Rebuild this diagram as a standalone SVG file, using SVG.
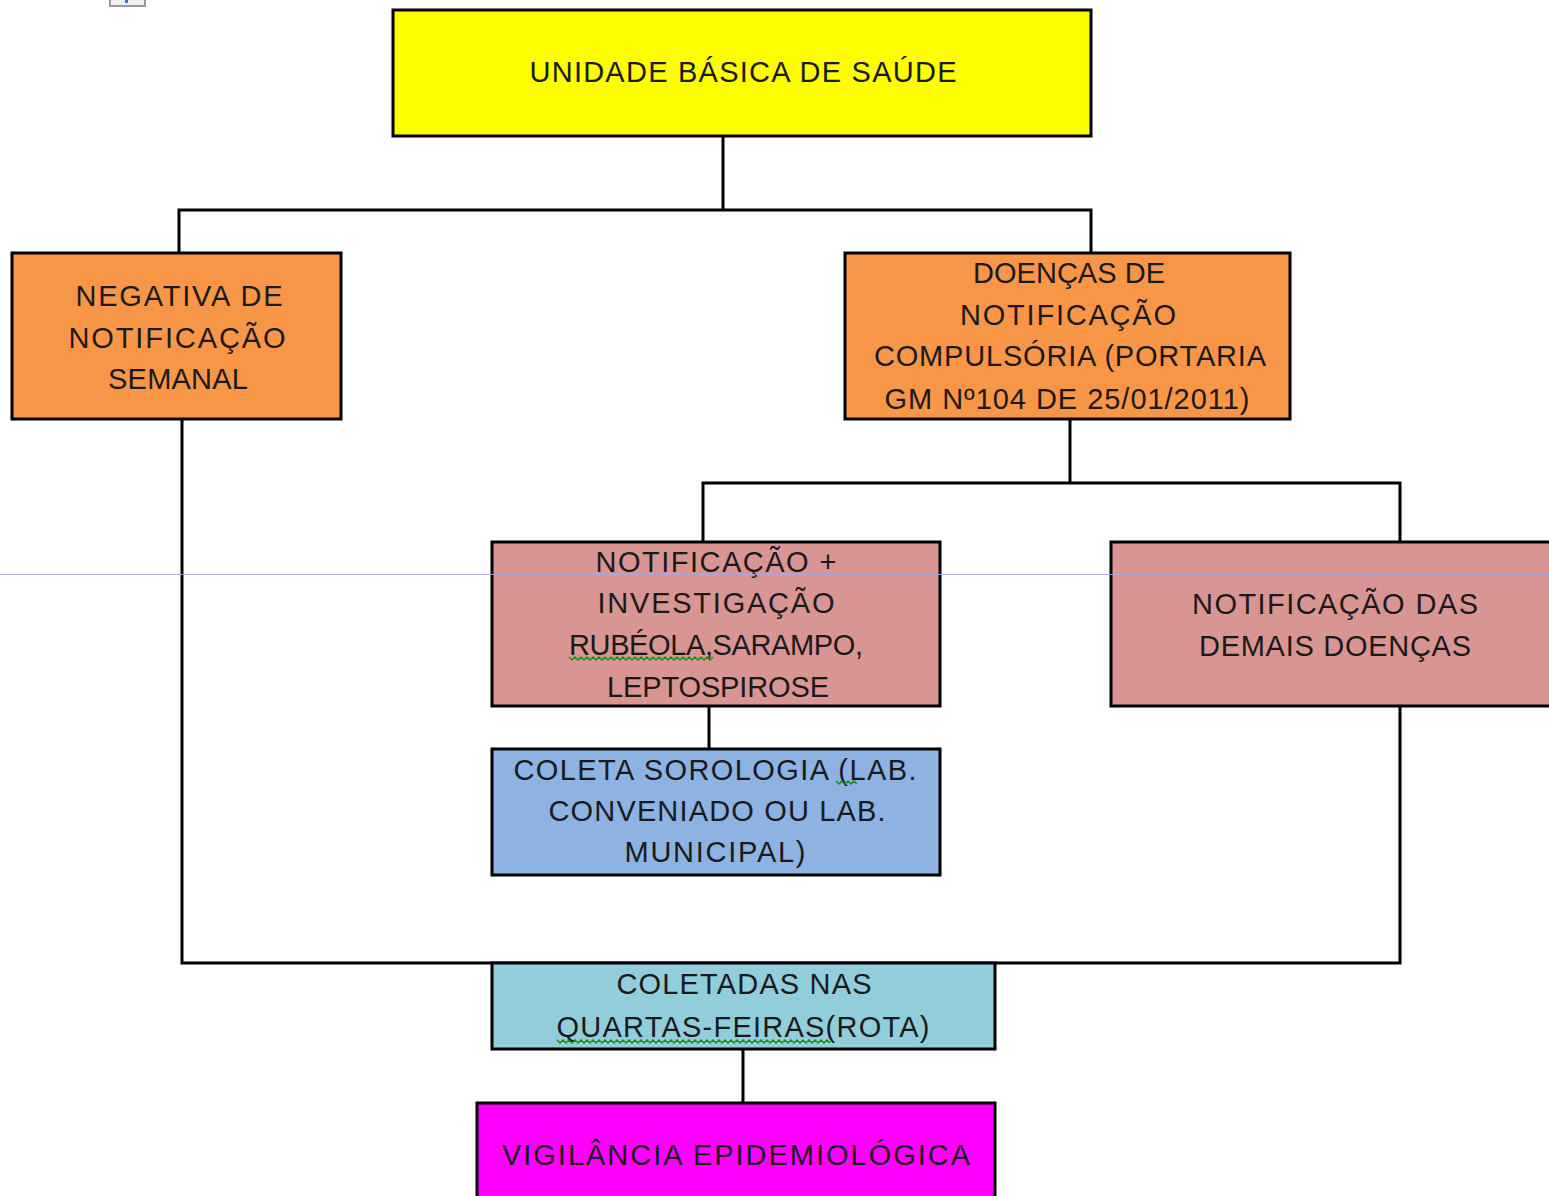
<svg xmlns="http://www.w3.org/2000/svg" width="1549" height="1196" viewBox="0 0 1549 1196">
<style>
.box{stroke:#000;stroke-width:3}
.t{font-family:"Liberation Sans","DejaVu Sans",sans-serif;font-size:29px;fill:#1a1a1a;text-anchor:middle}
.c{fill:none;stroke:#000;stroke-width:3}
.sq{fill:none;stroke:#1a8c1a;stroke-width:1.5}
</style>
<rect width="1549" height="1196" fill="#fff"/>
<rect x="110" y="-6" width="35" height="12" fill="#f0f0f0" stroke="#999" stroke-width="2"/>
<rect x="125" y="0" width="3" height="3" fill="#3c6fd0"/>
<g id="connectors">
<polyline class="c" points="723,136 723,210"/>
<polyline class="c" points="179,253 179,210 1091,210 1091,253"/>
<polyline class="c" points="1070,419 1070,483"/>
<polyline class="c" points="703,542 703,483 1400,483 1400,542"/>
<polyline class="c" points="709,706 709,749"/>
<polyline class="c" points="182,419 182,963 1400,963 1400,706"/>
<polyline class="c" points="743,1049 743,1103"/>
</g>
<g id="n-ubs">
<rect class="box" x="393" y="10" width="698" height="126" fill="#ffff00"/>
<text class="t" x="743" y="82" textLength="427" lengthAdjust="spacing">UNIDADE BÁSICA DE SAÚDE</text>
</g>
<g id="n-negativa">
<rect class="box" x="12" y="253" width="329" height="166" fill="#f79646"/>
<text class="t" x="179" y="306" textLength="207" lengthAdjust="spacing">NEGATIVA DE</text>
<text class="t" x="177" y="348" textLength="217" lengthAdjust="spacing">NOTIFICAÇÃO</text>
<text class="t" x="178" y="389" textLength="140" lengthAdjust="spacing">SEMANAL</text>
</g>
<g id="n-doencas">
<rect class="box" x="845" y="253" width="445" height="166" fill="#f79646"/>
<text class="t" x="1069" y="283" textLength="192" lengthAdjust="spacing">DOENÇAS DE</text>
<text class="t" x="1068" y="325" textLength="216" lengthAdjust="spacing">NOTIFICAÇÃO</text>
<text class="t" x="1070" y="366" textLength="392" lengthAdjust="spacing">COMPULSÓRIA (PORTARIA</text>
<text class="t" x="1067" y="409" textLength="365" lengthAdjust="spacing">GM Nº104 DE 25/01/2011)</text>
</g>
<g id="n-investigacao">
<rect class="box" x="492" y="542" width="448" height="164" fill="#d99594"/>
<text class="t" x="716" y="572" textLength="241" lengthAdjust="spacing">NOTIFICAÇÃO +</text>
<text class="t" x="716" y="613" textLength="237" lengthAdjust="spacing">INVESTIGAÇÃO</text>
<text class="t" x="716" y="655" textLength="294" lengthAdjust="spacing">RUBÉOLA,SARAMPO,</text>
<text class="t" x="718" y="697" textLength="222" lengthAdjust="spacing">LEPTOSPIROSE</text>
<polyline class="sq" points="569,657 572,660 575,657 578,660 581,657 584,660 587,657 590,660 593,657 596,660 599,657 602,660 605,657 608,660 611,657 614,660 617,657 620,660 623,657 626,660 629,657 632,660 635,657 638,660 641,657 644,660 647,657 650,660 653,657 656,660 659,657 662,660 665,657 668,660 671,657 674,660 677,657 680,660 683,657 686,660 689,657 692,660 695,657 698,660 701,657 704,660 707,657 710,660 713,657"/>
</g>
<g id="n-demais">
<rect class="box" x="1111" y="542" width="450" height="164" fill="#d99594"/>
<text class="t" x="1335" y="614" textLength="286" lengthAdjust="spacing">NOTIFICAÇÃO DAS</text>
<text class="t" x="1335" y="656" textLength="272" lengthAdjust="spacing">DEMAIS DOENÇAS</text>
</g>
<g id="n-coleta">
<rect class="box" x="492" y="749" width="448" height="126" fill="#8db3e2"/>
<text class="t" x="715" y="780" textLength="403" lengthAdjust="spacing">COLETA SOROLOGIA (LAB.</text>
<text class="t" x="717" y="821" textLength="337" lengthAdjust="spacing">CONVENIADO OU LAB.</text>
<text class="t" x="715" y="862" textLength="181" lengthAdjust="spacing">MUNICIPAL)</text>
<polyline class="sq" points="836,781 839,784 842,781 845,784 848,781 851,784 854,781 857,784"/>
</g>
<g id="n-coletadas">
<rect class="box" x="492" y="963" width="503" height="86" fill="#92cddc"/>
<text class="t" x="744" y="994" textLength="255" lengthAdjust="spacing">COLETADAS NAS</text>
<text class="t" x="743" y="1037" textLength="373" lengthAdjust="spacing">QUARTAS-FEIRAS(ROTA)</text>
<polyline class="sq" points="557,1040 560,1043 563,1040 566,1043 569,1040 572,1043 575,1040 578,1043 581,1040 584,1043 587,1040 590,1043 593,1040 596,1043 599,1040 602,1043 605,1040 608,1043 611,1040 614,1043 617,1040 620,1043 623,1040 626,1043 629,1040 632,1043 635,1040 638,1043 641,1040 644,1043 647,1040 650,1043 653,1040 656,1043 659,1040 662,1043 665,1040 668,1043 671,1040 674,1043 677,1040 680,1043 683,1040 686,1043 689,1040 692,1043 695,1040 698,1043 701,1040 704,1043 707,1040 710,1043 713,1040 716,1043 719,1040 722,1043 725,1040 728,1043 731,1040 734,1043 737,1040 740,1043 743,1040 746,1043 749,1040 752,1043 755,1040 758,1043 761,1040 764,1043 767,1040 770,1043 773,1040 776,1043 779,1040 782,1043 785,1040 788,1043 791,1040 794,1043 797,1040 800,1043 803,1040 806,1043 809,1040 812,1043 815,1040 818,1043 821,1040 824,1043 827,1040 830,1043"/>
</g>
<g id="n-vigilancia">
<rect class="box" x="477" y="1103" width="518" height="100" fill="#ff00ff"/>
<text class="t" x="736" y="1165" textLength="468" lengthAdjust="spacing">VIGILÂNCIA EPIDEMIOLÓGICA</text>
</g>
<line x1="0" y1="574.5" x2="1549" y2="574.5" stroke="#a8a8e0" stroke-width="1" opacity="0.85"/>
</svg>
